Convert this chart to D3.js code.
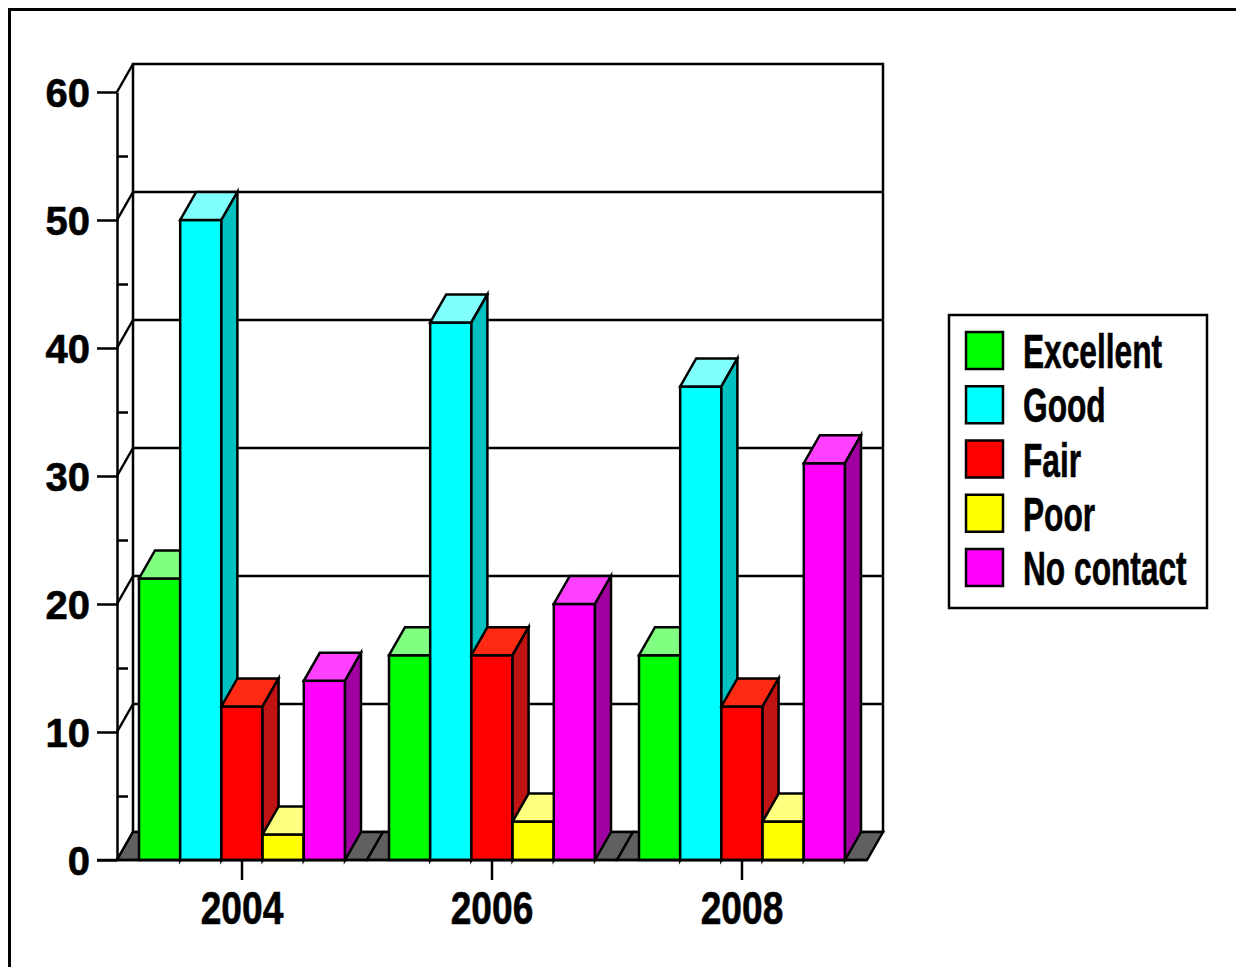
<!DOCTYPE html>
<html>
<head>
<meta charset="utf-8">
<script src="https://cdn.jsdelivr.net/npm/d3@7"></script>
<style>
  body { margin: 0; background: #fff; }
  text { font-family: "Liberation Sans", Arial, sans-serif; font-weight: bold; fill: #000; }
</style>
</head>
<body>
<svg id="canvas"></svg>
<script>
var width = 1236,
	height = 967;

// data
var years = ["2004", "2006", "2008"];
var series = ["Excellent", "Good", "Fair", "Poor", "No contact"];
var excellent = [22, 16, 16];
var good = [50, 42, 37];
var fair = [12, 16, 12];
var poor = [2, 3, 3];
var noContact = [14, 20, 31];
var yTicks = [0, 10, 20, 30, 40, 50, 60];
var yMinor = [5, 15, 25, 35, 45, 55];

var values = [excellent, good, fair, poor, noContact];
var fronts = ["#00ff00", "#00ffff", "#ff0000", "#ffff00", "#ff00ff"];
var tops = ["#80ff80", "#80ffff", "#ff2a14", "#ffff80", "#ff40ff"];
var sides = ["#00a000", "#00c0c0", "#c01414", "#c0c000", "#a000a0"];

var svg = d3.select("#canvas")
	.attr("width", width)
	.attr("height", height);

// outer frame (right/bottom edges fall outside)
svg.append("rect")
	.attr("x", 9.5).attr("y", 9.5)
	.attr("width", 1300).attr("height", 1000)
	.attr("fill", "none").attr("stroke", "#000").attr("stroke-width", 3);

var dx = 16, dy = -28;
var lw = 2.5;

var y = d3.scaleLinear()
	.domain([0, 60])
	.range([860, 92]);

var x = d3.scaleBand()
	.domain(years)
	.range([117, 867]);

var xInner = d3.scaleBand()
	.domain(series)
	.range([22, 228]);

var g = svg.append("g")
	.attr("stroke", "#000")
	.attr("stroke-width", lw)
	.attr("stroke-linejoin", "miter");

// back wall
g.append("rect")
	.attr("x", 117 + dx).attr("y", y(60) + dy)
	.attr("width", 750).attr("height", y(0) - y(60))
	.attr("fill", "#fff");

g.selectAll(".grid")
	.data(yTicks.slice(1, -1))
	.enter()
	.append("line")
	.attr("x1", 117 + dx).attr("x2", 867 + dx)
	.attr("y1", function(d){ return y(d) + dy; })
	.attr("y2", function(d){ return y(d) + dy; });

// side wall diagonals
g.selectAll(".diag")
	.data(yTicks)
	.enter()
	.append("line")
	.attr("x1", 117).attr("x2", 117 + dx)
	.attr("y1", function(d){ return y(d); })
	.attr("y2", function(d){ return y(d) + dy; });

// floor, one piece per category
g.selectAll(".floor")
	.data(years)
	.enter()
	.append("path")
	.attr("fill", "#606060")
	.attr("d", function(d){
		var a = x(d), b = x(d) + x.bandwidth(), f = y(0);
		return "M" + a + "," + f + "L" + b + "," + f + "L" + (b + dx) + "," + (f + dy) + "L" + (a + dx) + "," + (f + dy) + "Z";
	});

// bars
years.forEach(function(yr, i){
	series.forEach(function(s, j){
		var v = values[j][i];
		var x0 = x(yr) + xInner(s),
			x1 = x0 + xInner.bandwidth(),
			t = y(v), b = y(0);
		var bar = g.append("g");
		bar.append("rect")
			.attr("x", x0).attr("y", t)
			.attr("width", x1 - x0).attr("height", b - t)
			.attr("fill", fronts[j]);
		bar.append("path")
			.attr("fill", tops[j])
			.attr("d", "M" + x0 + "," + t + "L" + x1 + "," + t + "L" + (x1 + dx) + "," + (t + dy) + "L" + (x0 + dx) + "," + (t + dy) + "Z");
		bar.append("path")
			.attr("fill", sides[j])
			.attr("d", "M" + x1 + "," + t + "L" + (x1 + dx) + "," + (t + dy) + "L" + (x1 + dx) + "," + (b + dy) + "L" + x1 + "," + b + "Z");
	});
});

// y axis
var yAxis = svg.append("g")
	.attr("transform", "translate(117,0)")
	.call(d3.axisLeft(y).tickValues(yTicks).tickSize(20).tickSizeOuter(0).tickPadding(7));
yAxis.selectAll("path, line").attr("stroke", "#000").attr("stroke-width", lw);
yAxis.selectAll("text")
	.attr("dy", "0.36em")
	.attr("stroke", "#000").attr("stroke-width", 0.6)
	.style("font-size", "40px")
	.style("font-family", "'Liberation Sans', Arial, sans-serif");

var yMinorAxis = svg.append("g")
	.attr("transform", "translate(117,0)")
	.call(d3.axisRight(y).tickValues(yMinor).tickSize(11).tickFormat(""));
yMinorAxis.select(".domain").remove();
yMinorAxis.selectAll("line").attr("stroke", "#000").attr("stroke-width", lw);

// x axis
var xAxis = svg.append("g")
	.attr("transform", "translate(0," + y(0) + ")")
	.call(d3.axisBottom(x).tickSize(20).tickSizeOuter(0));
xAxis.select(".domain").attr("d", "M97,0H867").attr("stroke", "#000").attr("stroke-width", lw);
xAxis.selectAll("line").attr("stroke", "#000").attr("stroke-width", lw);
xAxis.selectAll("text")
	.attr("y", 64).attr("dy", null)
	.attr("transform", "scale(0.79,1)")
	.attr("stroke", "#000").attr("stroke-width", 0.6)
	.style("font-size", "47px")
	.style("font-family", "'Liberation Sans', Arial, sans-serif");

// legend
var legend = svg.append("g");
legend.append("rect")
	.attr("x", 949).attr("y", 315)
	.attr("width", 258).attr("height", 293)
	.attr("fill", "#fff").attr("stroke", "#000").attr("stroke-width", lw);

var row = d3.scalePoint()
	.domain(series)
	.range([332, 549]);

var item = legend.selectAll(".item")
	.data(series)
	.enter()
	.append("g")
	.attr("transform", function(d){ return "translate(966," + row(d) + ")"; });

item.append("rect")
	.attr("width", 37).attr("height", 37)
	.attr("fill", function(d, i){ return fronts[i]; })
	.attr("stroke", "#000").attr("stroke-width", lw);

item.append("text")
	.attr("transform", "translate(57,36) scale(0.66,1)")
	.attr("stroke", "#000").attr("stroke-width", 0.6)
	.style("font-size", "48px")
	.text(function(d){ return d; });
</script>
</body>
</html>
